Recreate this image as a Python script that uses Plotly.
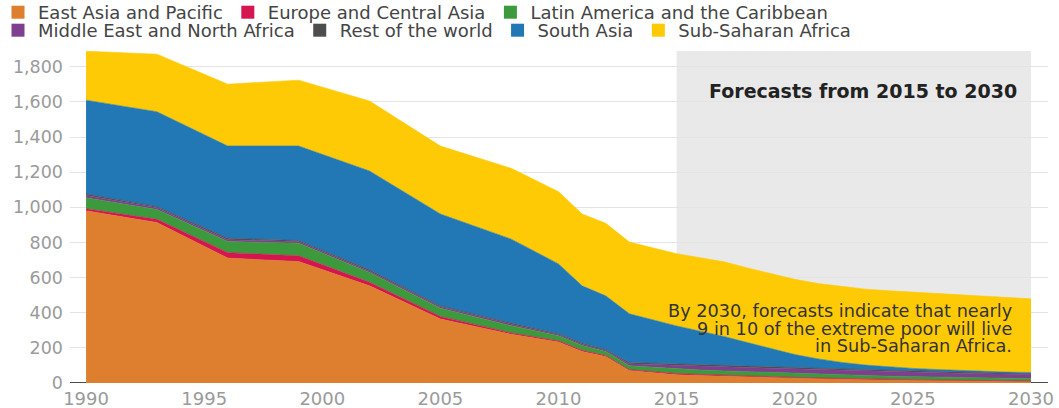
import plotly.graph_objects as go

years = [1990, 1993, 1996, 1999, 2002, 2005, 2008, 2010, 2011, 2012, 2013,
         2015, 2016, 2017, 2018, 2019, 2020, 2021, 2022, 2023, 2024, 2025,
         2026, 2027, 2028, 2029, 2030]

east_asia_pacific = [980, 913, 711, 691, 553, 364, 277, 234, 180, 151, 71,
                     47, 42, 38, 34, 30, 27, 24, 21, 19, 17, 15, 13, 12, 10, 9, 8]
europe_central_asia = [12, 19, 31, 33, 20, 15, 8, 6, 6, 5, 5,
                       7, 7, 6, 6, 6, 5, 5, 5, 5, 4, 4, 4, 4, 3, 3, 3]
latin_america_caribbean = [62, 55, 63, 72, 56, 47, 41, 29, 28, 24, 22,
                           26, 25, 25, 24, 23, 22, 21, 20, 19, 18, 17, 16, 15, 15, 14, 14]
middle_east_north_africa = [14, 11, 11, 9, 9, 8, 9, 7, 8, 6, 12,
                            19, 21, 23, 24, 25, 26, 26, 26, 25, 25, 25, 25, 25, 25, 25, 24]
rest_of_world = [8, 6, 8, 6, 6, 5, 6, 4, 5, 3, 6,
                 8, 8, 8, 8, 8, 8, 8, 8, 8, 8, 7, 6, 5, 5, 4, 4]
south_asia = [534, 540, 525, 538, 563, 523, 478, 398, 326, 307, 278,
              218, 192, 165, 134, 103, 74, 53, 37, 26, 19, 15, 13, 10, 8, 7, 7]
sub_saharan_africa = [279, 328, 352, 375, 398, 387, 403, 411, 409, 413, 408,
                      411, 418, 425, 425, 427, 428, 429, 431, 432, 434, 434, 431, 429, 426, 423, 419]

series_names = ["East Asia and Pacific", "Europe and Central Asia",
                "Latin America and the Caribbean", "Middle East and North Africa",
                "Rest of the world", "South Asia", "Sub-Saharan Africa"]
series_values = [east_asia_pacific, europe_central_asia, latin_america_caribbean,
                 middle_east_north_africa, rest_of_world, south_asia, sub_saharan_africa]
colors = ["#DD7F2E", "#D5154F", "#3C9A3C", "#7E3F8F", "#4D4D4D", "#2178B5", "#FECA06"]
legend_rows = ["legend", "legend", "legend", "legend2", "legend2", "legend2", "legend2"]

y_ticks = [0, 200, 400, 600, 800, 1000, 1200, 1400, 1600, 1800]
x_ticks = [1990, 1995, 2000, 2005, 2010, 2015, 2020, 2025, 2030]
x_range = [1989.32, 2030.72]
y_range = [0, 1890]

forecast_start, forecast_end = 2015, 2030

FONT = "DejaVu Sans"

W, H = 1059, 408
ML, MT, MR, MB = 70, 51, 11, 25
plot_h = H - MT - MB
plot_w = W - ML - MR

fig = go.Figure()
for name, vals, col in zip(series_names, series_values, colors):
    fig.add_trace(go.Scatter(
        x=years, y=vals, name=name, mode="lines", stackgroup="one",
        line=dict(width=0.6, color=col), fillcolor=col, showlegend=False,
        hoverinfo="x+y+name"))
# legend entries with square markers, split over two rows
for name, col, lg in zip(series_names, colors, legend_rows):
    fig.add_trace(go.Scatter(
        x=[None], y=[None], mode="markers", name=name, legend=lg,
        marker=dict(symbol="square", size=13, color=col), showlegend=True))

fig.add_shape(type="rect", xref="x", yref="paper", x0=forecast_start, x1=forecast_end,
              y0=0, y1=1, fillcolor="#E9E9E9", line=dict(width=0), layer="below")

# baseline segments visible outside the data span
for a, b in [(x_range[0], years[0]), (years[-1], x_range[1])]:
    fig.add_shape(type="line", xref="x", yref="y", x0=a, x1=b, y0=0, y1=0,
                  line=dict(color="#111111", width=1.5), layer="above")

fig.add_annotation(x=(forecast_start + forecast_end) / 2 + 0.4, y=1662, xref="x", yref="y",
                   text="<b>Forecasts from 2015 to 2030</b>", showarrow=False,
                   font=dict(family=FONT, size=19, color="#222222"))

note_lines = ["By 2030, forecasts indicate that nearly",
              "9 in 10 of the extreme poor will live",
              "in Sub-Saharan Africa."]
for i, line in enumerate(note_lines):
    fig.add_annotation(x=2029.3, y=410 - i * 100, xref="x", yref="y", text=line,
                       showarrow=False, xanchor="right",
                       font=dict(family=FONT, size=17.7, color="#333333"))

legend_common = dict(orientation="h", xanchor="left", yanchor="top",
                     font=dict(family=FONT, size=18, color="#444444"),
                     itemsizing="trace", tracegroupgap=0, bgcolor="rgba(0,0,0,0)",
                     traceorder="normal", borderwidth=0)

fig.update_layout(
    width=W, height=H,
    margin=dict(l=ML, r=MR, t=MT, b=MB, autoexpand=False),
    plot_bgcolor="white", paper_bgcolor="white",
    font=dict(family=FONT, color="#444444"),
    legend=dict(x=-(ML + 2) / plot_w, y=1 + (MT + 6) / plot_h, **legend_common),
    legend2=dict(x=-(ML + 2) / plot_w, y=1 + (MT - 12) / plot_h, **legend_common),
    xaxis=dict(range=x_range, tickvals=x_ticks, showgrid=False,
               showline=False, zeroline=False, ticklabelstandoff=3,
               tickfont=dict(family=FONT, size=18, color="#9A9A9A"),
               fixedrange=True),
    yaxis=dict(range=y_range, tickvals=y_ticks, tickformat=",", showgrid=True,
               gridcolor="#E4E4E4", gridwidth=1, zeroline=False, showline=False,
               ticklabelstandoff=6,
               tickfont=dict(family=FONT, size=17.5, color="#9A9A9A"), fixedrange=True),
    showlegend=True,
)

fig.write_html("out.html", config={"displayModeBar": False},
               post_script="document.body.style.margin='0px';")
